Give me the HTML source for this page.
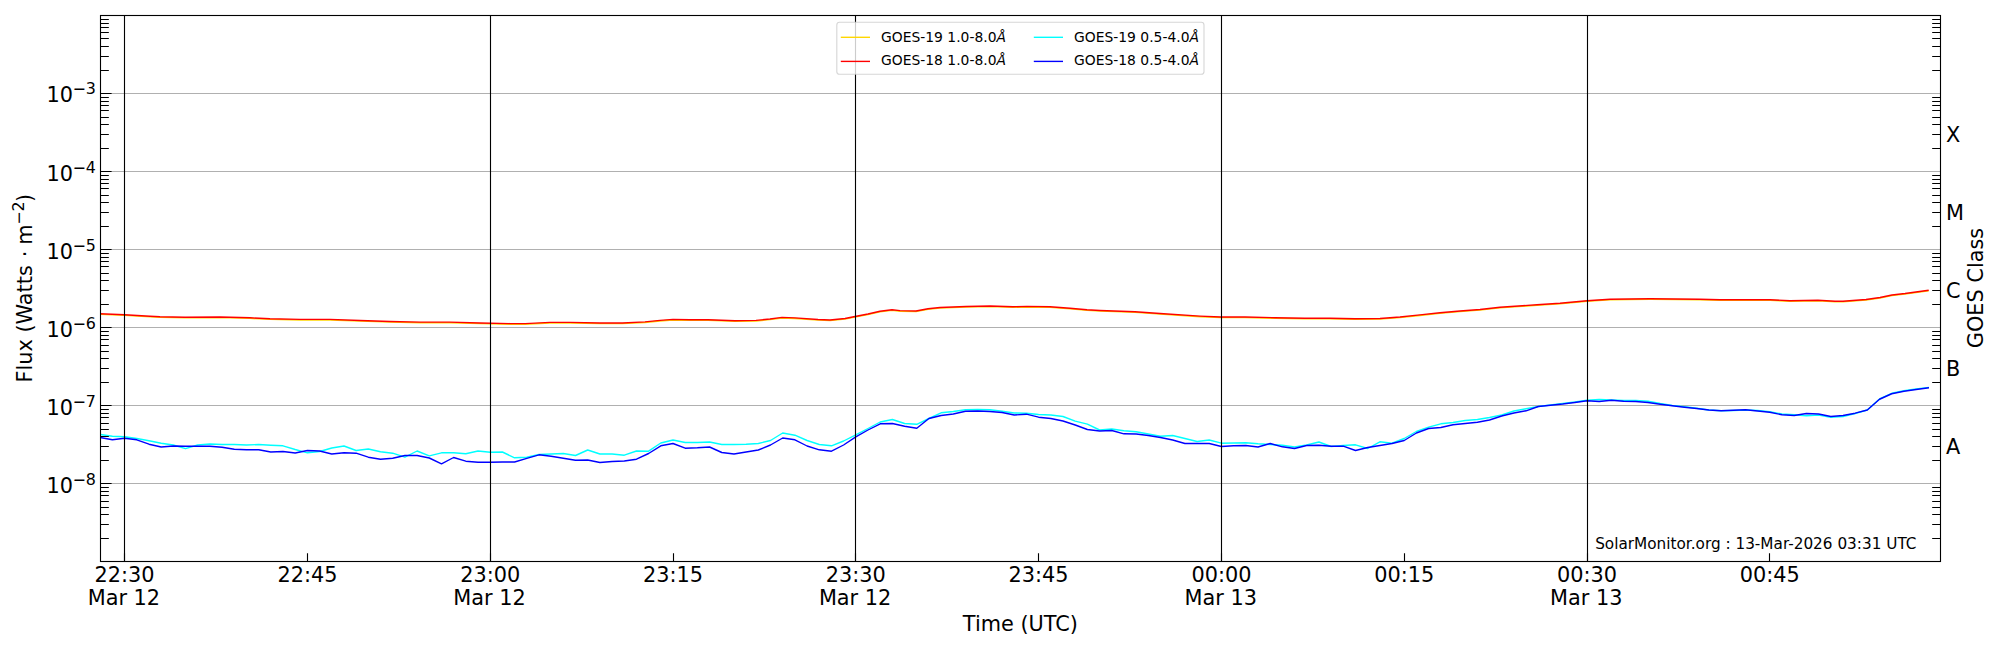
<!DOCTYPE html>
<html><head><meta charset="utf-8"><title>GOES X-ray Flux</title><style>
html,body{margin:0;padding:0;background:#fff;overflow:hidden;width:2000px;height:650px;}
</style></head><body>
<svg width="2000" height="650" viewBox="0 0 2000 650" style="display:block">
<rect x="0" y="0" width="2000" height="650" fill="#fff"/>
<defs><clipPath id="ax"><rect x="100.50" y="15.48" width="1840.00" height="546.35"/></clipPath></defs>
<path d="M100.50 483.50H1940.50M100.50 405.50H1940.50M100.50 327.50H1940.50M100.50 249.50H1940.50M100.50 171.50H1940.50M100.50 93.50H1940.50" stroke="#b0b0b0" stroke-width="1.11" fill="none"/>
<g clip-path="url(#ax)" fill="none" stroke-width="1.39" stroke-linejoin="round" stroke-linecap="square">
<polyline points="88.0,313.90 100.0,314.40 124.5,315.40 150.0,316.90 160.0,317.40 185.0,317.80 220.0,317.60 250.0,318.40 270.0,319.40 300.0,320.00 330.0,320.00 360.0,321.10 390.0,322.10 420.0,322.70 450.0,322.70 480.0,323.60 510.0,324.20 525.0,324.20 550.0,323.00 570.0,323.00 600.0,323.60 622.5,323.60 645.0,322.50 660.0,321.00 673.0,320.00 690.0,320.30 708.0,320.30 735.0,321.35 756.0,321.00 770.0,319.60 782.0,318.00 795.0,318.50 818.0,320.10 830.0,320.60 845.0,319.10 855.0,317.10 868.0,314.60 880.0,311.90 892.0,310.40 900.0,311.20 916.0,311.60 928.0,309.35 940.0,308.10 966.0,307.10 990.0,306.65 1013.0,307.40 1027.0,306.95 1050.0,307.40 1070.0,308.90 1087.0,310.40 1100.0,311.10 1135.0,312.35 1160.0,314.10 1200.0,316.70 1221.0,317.60 1245.0,317.60 1275.0,318.35 1305.0,318.80 1330.0,318.80 1355.0,319.40 1380.0,319.10 1400.0,317.60 1420.0,315.50 1440.0,313.40 1460.0,311.60 1480.0,310.10 1500.0,307.90 1537.0,305.35 1560.0,303.85 1587.0,301.30 1610.0,299.80 1650.0,299.35 1700.0,299.80 1720.0,300.40 1750.0,300.40 1770.0,300.30 1790.0,301.30 1818.0,300.90 1835.0,301.80 1843.0,301.80 1866.0,300.10 1880.0,298.10 1892.0,295.60 1905.0,294.10 1928.0,290.90" stroke="#ffd700"/>
<polyline points="88.0,313.30 100.0,313.80 124.5,314.80 150.0,316.30 160.0,316.80 185.0,317.20 220.0,317.00 250.0,317.80 270.0,318.80 300.0,319.40 330.0,319.40 360.0,320.50 390.0,321.50 420.0,322.10 450.0,322.10 480.0,323.00 510.0,323.60 525.0,323.60 550.0,322.40 570.0,322.40 600.0,323.00 622.5,323.00 645.0,321.90 660.0,320.40 673.0,319.40 690.0,319.70 708.0,319.70 735.0,320.75 756.0,320.40 770.0,319.00 782.0,317.40 795.0,317.90 818.0,319.50 830.0,320.00 845.0,318.50 855.0,316.50 868.0,314.00 880.0,311.30 892.0,309.80 900.0,310.60 916.0,311.00 928.0,308.75 940.0,307.50 966.0,306.50 990.0,306.05 1013.0,306.80 1027.0,306.35 1050.0,306.80 1070.0,308.30 1087.0,309.80 1100.0,310.50 1135.0,311.75 1160.0,313.50 1200.0,316.10 1221.0,317.00 1245.0,317.00 1275.0,317.75 1305.0,318.20 1330.0,318.20 1355.0,318.80 1380.0,318.50 1400.0,317.00 1420.0,314.90 1440.0,312.80 1460.0,311.00 1480.0,309.50 1500.0,307.30 1537.0,304.75 1560.0,303.25 1587.0,300.70 1610.0,299.20 1650.0,298.75 1700.0,299.20 1720.0,299.80 1750.0,299.80 1770.0,299.70 1790.0,300.70 1818.0,300.30 1835.0,301.20 1843.0,301.20 1866.0,299.50 1880.0,297.50 1892.0,295.00 1905.0,293.50 1928.0,290.30" stroke="#ff0000"/>
<polyline points="88.0,432.80 100.2,434.50 112.4,436.20 124.6,436.80 136.8,438.50 149.0,440.80 161.2,443.20 173.3,445.00 185.5,448.70 197.7,445.00 209.9,444.00 222.1,444.50 234.3,444.50 246.5,445.00 258.7,444.50 270.8,445.20 283.0,445.80 295.2,449.50 307.4,452.80 319.6,451.50 331.8,448.00 344.0,446.00 356.1,450.50 368.3,449.00 380.5,451.80 392.7,453.20 404.9,457.20 417.1,451.00 429.3,455.80 441.5,452.80 453.6,452.80 465.8,453.80 478.0,451.00 490.2,452.20 502.4,452.00 514.6,457.80 526.8,457.20 539.0,454.50 551.1,454.00 563.3,453.50 575.5,455.50 587.7,450.00 599.9,454.00 612.1,454.00 624.3,455.20 636.5,451.00 648.6,451.20 660.8,443.00 673.0,440.00 685.2,442.50 697.4,442.50 709.6,442.00 721.8,444.50 734.0,444.50 746.1,444.20 758.3,443.50 770.5,440.50 782.7,433.00 794.9,435.20 807.1,440.50 819.3,444.50 831.5,445.80 843.6,441.00 855.8,434.80 868.0,428.50 880.2,422.00 892.4,419.50 904.6,423.50 916.8,424.30 928.9,418.50 941.1,412.80 953.3,411.50 965.5,409.70 977.7,409.50 989.9,409.80 1002.1,411.20 1014.2,413.00 1026.4,413.20 1038.6,414.50 1050.8,415.00 1063.0,416.50 1075.2,421.20 1087.4,424.20 1099.6,430.00 1111.8,429.00 1123.9,430.80 1136.1,431.70 1148.3,434.00 1160.5,436.30 1172.7,435.50 1184.9,438.50 1197.1,441.50 1209.2,440.00 1221.4,443.20 1233.6,443.00 1245.8,442.80 1258.0,443.80 1270.2,444.50 1282.4,445.20 1294.5,447.00 1306.7,445.00 1318.9,442.00 1331.1,446.50 1343.3,445.50 1355.5,444.80 1367.7,448.50 1379.9,441.80 1392.0,443.20 1404.2,438.50 1416.4,431.50 1428.6,427.20 1440.8,423.80 1453.0,422.50 1465.2,420.50 1477.4,419.50 1489.5,417.50 1501.7,415.00 1513.9,411.00 1526.1,408.80 1538.3,406.50 1550.5,405.00 1562.7,403.50 1574.8,402.00 1587.0,400.20 1599.2,399.50 1611.4,400.00 1623.6,400.50 1635.8,400.50 1648.0,401.20 1660.2,403.50 1672.3,405.50 1684.5,406.80 1696.7,408.20 1708.9,410.00 1721.1,410.80 1733.3,410.50 1745.5,410.00 1757.7,410.50 1769.8,411.80 1782.0,414.00 1794.2,414.80 1806.4,415.80 1818.6,415.00 1830.8,417.20 1843.0,416.50 1855.2,413.50 1867.3,410.00 1879.5,399.00 1891.7,393.30 1903.9,390.80 1916.1,389.00 1928.3,387.50" stroke="#00ffff"/>
<polyline points="88.0,435.30 100.2,437.50 112.4,439.70 124.6,438.30 136.8,439.80 149.0,444.20 161.2,447.00 173.3,446.00 185.5,446.30 197.7,446.30 209.9,446.30 222.1,447.30 234.3,449.20 246.5,449.70 258.7,449.70 270.8,452.00 283.0,451.50 295.2,453.00 307.4,450.50 319.6,451.00 331.8,454.00 344.0,452.80 356.1,453.20 368.3,457.20 380.5,459.20 392.7,458.20 404.9,455.50 417.1,455.50 429.3,458.00 441.5,463.80 453.6,457.50 465.8,461.20 478.0,462.30 490.2,462.30 502.4,462.00 514.6,462.00 526.8,458.30 539.0,454.80 551.1,456.20 563.3,458.20 575.5,460.20 587.7,460.00 599.9,462.50 612.1,461.50 624.3,461.00 636.5,459.20 648.6,453.50 660.8,445.80 673.0,443.50 685.2,448.20 697.4,447.80 709.6,447.00 721.8,452.50 734.0,454.00 746.1,452.00 758.3,450.00 770.5,445.00 782.7,438.00 794.9,439.80 807.1,446.00 819.3,449.80 831.5,451.20 843.6,445.00 855.8,436.80 868.0,430.00 880.2,423.80 892.4,423.50 904.6,426.20 916.8,428.20 928.9,418.50 941.1,415.50 953.3,414.00 965.5,411.30 977.7,411.00 989.9,411.50 1002.1,412.50 1014.2,415.00 1026.4,414.20 1038.6,417.20 1050.8,418.50 1063.0,421.00 1075.2,425.00 1087.4,429.50 1099.6,431.00 1111.8,430.50 1123.9,433.80 1136.1,434.00 1148.3,435.50 1160.5,437.50 1172.7,440.00 1184.9,443.50 1197.1,443.50 1209.2,443.50 1221.4,446.50 1233.6,445.80 1245.8,445.50 1258.0,447.00 1270.2,443.50 1282.4,446.80 1294.5,448.50 1306.7,445.50 1318.9,445.20 1331.1,446.20 1343.3,446.20 1355.5,450.50 1367.7,447.50 1379.9,445.50 1392.0,443.50 1404.2,440.50 1416.4,433.00 1428.6,428.50 1440.8,427.50 1453.0,424.80 1465.2,423.50 1477.4,422.20 1489.5,420.00 1501.7,416.00 1513.9,413.00 1526.1,410.80 1538.3,406.50 1550.5,405.20 1562.7,404.00 1574.8,402.50 1587.0,400.80 1599.2,401.50 1611.4,400.20 1623.6,401.20 1635.8,401.50 1648.0,402.50 1660.2,404.20 1672.3,405.80 1684.5,407.20 1696.7,408.50 1708.9,410.00 1721.1,410.80 1733.3,410.30 1745.5,409.80 1757.7,411.00 1769.8,412.20 1782.0,414.80 1794.2,415.50 1806.4,413.50 1818.6,414.00 1830.8,416.50 1843.0,415.50 1855.2,413.20 1867.3,410.00 1879.5,399.25 1891.7,393.75 1903.9,391.25 1916.1,389.50 1928.3,387.90" stroke="#0000ff"/>
</g>
<path d="M124.50 15.50V561.50M490.50 15.50V561.50M855.50 15.50V561.50M1221.50 15.50V561.50M1587.50 15.50V561.50" stroke="#000" stroke-width="1.11" fill="none"/>
<path d="M100.50 538.50h8.33M1940.50 538.50h-8.33M100.50 524.50h8.33M1940.50 524.50h-8.33M100.50 514.50h8.33M1940.50 514.50h-8.33M100.50 507.50h8.33M1940.50 507.50h-8.33M100.50 501.50h8.33M1940.50 501.50h-8.33M100.50 495.50h8.33M1940.50 495.50h-8.33M100.50 491.50h8.33M1940.50 491.50h-8.33M100.50 487.50h8.33M1940.50 487.50h-8.33M100.50 483.50h11.10M100.50 460.50h8.33M1940.50 460.50h-8.33M100.50 446.50h8.33M1940.50 446.50h-8.33M100.50 436.50h8.33M1940.50 436.50h-8.33M100.50 429.50h8.33M1940.50 429.50h-8.33M100.50 423.50h8.33M1940.50 423.50h-8.33M100.50 417.50h8.33M1940.50 417.50h-8.33M100.50 413.50h8.33M1940.50 413.50h-8.33M100.50 409.50h8.33M1940.50 409.50h-8.33M100.50 405.50h11.10M100.50 382.50h8.33M1940.50 382.50h-8.33M100.50 368.50h8.33M1940.50 368.50h-8.33M100.50 358.50h8.33M1940.50 358.50h-8.33M100.50 351.50h8.33M1940.50 351.50h-8.33M100.50 345.50h8.33M1940.50 345.50h-8.33M100.50 339.50h8.33M1940.50 339.50h-8.33M100.50 335.50h8.33M1940.50 335.50h-8.33M100.50 331.50h8.33M1940.50 331.50h-8.33M100.50 327.50h11.10M100.50 304.50h8.33M1940.50 304.50h-8.33M100.50 290.50h8.33M1940.50 290.50h-8.33M100.50 280.50h8.33M1940.50 280.50h-8.33M100.50 273.50h8.33M1940.50 273.50h-8.33M100.50 266.50h8.33M1940.50 266.50h-8.33M100.50 261.50h8.33M1940.50 261.50h-8.33M100.50 257.50h8.33M1940.50 257.50h-8.33M100.50 253.50h8.33M1940.50 253.50h-8.33M100.50 249.50h11.10M100.50 226.50h8.33M1940.50 226.50h-8.33M100.50 212.50h8.33M1940.50 212.50h-8.33M100.50 202.50h8.33M1940.50 202.50h-8.33M100.50 195.50h8.33M1940.50 195.50h-8.33M100.50 188.50h8.33M1940.50 188.50h-8.33M100.50 183.50h8.33M1940.50 183.50h-8.33M100.50 179.50h8.33M1940.50 179.50h-8.33M100.50 175.50h8.33M1940.50 175.50h-8.33M100.50 171.50h11.10M100.50 148.50h8.33M1940.50 148.50h-8.33M100.50 134.50h8.33M1940.50 134.50h-8.33M100.50 124.50h8.33M1940.50 124.50h-8.33M100.50 117.50h8.33M1940.50 117.50h-8.33M100.50 110.50h8.33M1940.50 110.50h-8.33M100.50 105.50h8.33M1940.50 105.50h-8.33M100.50 101.50h8.33M1940.50 101.50h-8.33M100.50 97.50h8.33M1940.50 97.50h-8.33M100.50 93.50h11.10M100.50 70.50h8.33M1940.50 70.50h-8.33M100.50 56.50h8.33M1940.50 56.50h-8.33M100.50 46.50h8.33M1940.50 46.50h-8.33M100.50 38.50h8.33M1940.50 38.50h-8.33M100.50 32.50h8.33M1940.50 32.50h-8.33M100.50 27.50h8.33M1940.50 27.50h-8.33M100.50 23.50h8.33M1940.50 23.50h-8.33M100.50 19.50h8.33M1940.50 19.50h-8.33M1940.50 446.50h-8.33M1940.50 368.50h-8.33M1940.50 290.50h-8.33M1940.50 212.50h-8.33M1940.50 134.50h-8.33M124.50 561.50v-8.33M307.50 561.50v-8.33M490.50 561.50v-8.33M673.50 561.50v-8.33M855.50 561.50v-8.33M1038.50 561.50v-8.33M1221.50 561.50v-8.33M1404.50 561.50v-8.33M1587.50 561.50v-8.33M1769.50 561.50v-8.33" stroke="#000" stroke-width="1.11" fill="none"/>
<rect x="100.50" y="15.50" width="1840.00" height="546.00" fill="none" stroke="#000" stroke-width="1.11" stroke-linejoin="miter"/>
<rect x="836.80" y="22.30" width="367.20" height="51.90" rx="2.80" fill="#fff" fill-opacity="0.8" stroke="#ccc" stroke-opacity="0.8" stroke-width="1.11"/>
<path d="M840.80 37.30H870.00" stroke="#ffd700" stroke-width="1.39"/>
<text x="881.00" y="42.20" font-family='"DejaVu Sans", sans-serif' font-size="13.89">GOES-19 1.0-8.0<tspan font-style="oblique">Å</tspan></text>
<path d="M840.80 61.40H870.00" stroke="#ff0000" stroke-width="1.39"/>
<text x="881.00" y="65.10" font-family='"DejaVu Sans", sans-serif' font-size="13.89">GOES-18 1.0-8.0<tspan font-style="oblique">Å</tspan></text>
<path d="M1033.80 37.30H1063.00" stroke="#00ffff" stroke-width="1.39"/>
<text x="1074.00" y="42.20" font-family='"DejaVu Sans", sans-serif' font-size="13.89">GOES-19 0.5-4.0<tspan font-style="oblique">Å</tspan></text>
<path d="M1033.80 61.40H1063.00" stroke="#0000ff" stroke-width="1.39"/>
<text x="1074.00" y="65.10" font-family='"DejaVu Sans", sans-serif' font-size="13.89">GOES-18 0.5-4.0<tspan font-style="oblique">Å</tspan></text>
<text x="124.60" y="581.80" font-family='"DejaVu Sans", sans-serif' font-size="20.83" text-anchor="middle">22:30</text>
<text x="123.90" y="604.80" font-family='"DejaVu Sans", sans-serif' font-size="20.83" text-anchor="middle">Mar 12</text>
<text x="307.40" y="581.80" font-family='"DejaVu Sans", sans-serif' font-size="20.83" text-anchor="middle">22:45</text>
<text x="490.20" y="581.80" font-family='"DejaVu Sans", sans-serif' font-size="20.83" text-anchor="middle">23:00</text>
<text x="489.50" y="604.80" font-family='"DejaVu Sans", sans-serif' font-size="20.83" text-anchor="middle">Mar 12</text>
<text x="673.00" y="581.80" font-family='"DejaVu Sans", sans-serif' font-size="20.83" text-anchor="middle">23:15</text>
<text x="855.80" y="581.80" font-family='"DejaVu Sans", sans-serif' font-size="20.83" text-anchor="middle">23:30</text>
<text x="855.10" y="604.80" font-family='"DejaVu Sans", sans-serif' font-size="20.83" text-anchor="middle">Mar 12</text>
<text x="1038.60" y="581.80" font-family='"DejaVu Sans", sans-serif' font-size="20.83" text-anchor="middle">23:45</text>
<text x="1221.40" y="581.80" font-family='"DejaVu Sans", sans-serif' font-size="20.83" text-anchor="middle">00:00</text>
<text x="1220.70" y="604.80" font-family='"DejaVu Sans", sans-serif' font-size="20.83" text-anchor="middle">Mar 13</text>
<text x="1404.20" y="581.80" font-family='"DejaVu Sans", sans-serif' font-size="20.83" text-anchor="middle">00:15</text>
<text x="1587.00" y="581.80" font-family='"DejaVu Sans", sans-serif' font-size="20.83" text-anchor="middle">00:30</text>
<text x="1586.30" y="604.80" font-family='"DejaVu Sans", sans-serif' font-size="20.83" text-anchor="middle">Mar 13</text>
<text x="1769.80" y="581.80" font-family='"DejaVu Sans", sans-serif' font-size="20.83" text-anchor="middle">00:45</text>
<text x="46.50" y="492.99" font-family='"DejaVu Sans", sans-serif' font-size="20.83" text-anchor="start">10</text>
<text x="72.50" y="485.19" font-family='"DejaVu Sans", sans-serif' font-size="15.90" text-anchor="start">−8</text>
<text x="46.50" y="414.94" font-family='"DejaVu Sans", sans-serif' font-size="20.83" text-anchor="start">10</text>
<text x="72.50" y="407.13" font-family='"DejaVu Sans", sans-serif' font-size="15.90" text-anchor="start">−7</text>
<text x="46.50" y="336.89" font-family='"DejaVu Sans", sans-serif' font-size="20.83" text-anchor="start">10</text>
<text x="72.50" y="329.09" font-family='"DejaVu Sans", sans-serif' font-size="15.90" text-anchor="start">−6</text>
<text x="46.50" y="258.84" font-family='"DejaVu Sans", sans-serif' font-size="20.83" text-anchor="start">10</text>
<text x="72.50" y="251.04" font-family='"DejaVu Sans", sans-serif' font-size="15.90" text-anchor="start">−5</text>
<text x="46.50" y="180.79" font-family='"DejaVu Sans", sans-serif' font-size="20.83" text-anchor="start">10</text>
<text x="72.50" y="172.99" font-family='"DejaVu Sans", sans-serif' font-size="15.90" text-anchor="start">−4</text>
<text x="46.50" y="102.14" font-family='"DejaVu Sans", sans-serif' font-size="20.83" text-anchor="start">10</text>
<text x="72.50" y="94.34" font-family='"DejaVu Sans", sans-serif' font-size="15.90" text-anchor="start">−3</text>
<text x="1946.00" y="141.85" font-family='"DejaVu Sans", sans-serif' font-size="20.83" text-anchor="start">X</text>
<text x="1946.00" y="219.90" font-family='"DejaVu Sans", sans-serif' font-size="20.83" text-anchor="start">M</text>
<text x="1946.00" y="297.95" font-family='"DejaVu Sans", sans-serif' font-size="20.83" text-anchor="start">C</text>
<text x="1946.00" y="376.00" font-family='"DejaVu Sans", sans-serif' font-size="20.83" text-anchor="start">B</text>
<text x="1946.00" y="454.05" font-family='"DejaVu Sans", sans-serif' font-size="20.83" text-anchor="start">A</text>
<text x="1020.40" y="631.20" font-family='"DejaVu Sans", sans-serif' font-size="20.83" text-anchor="middle">Time (UTC)</text>
<text transform="translate(32.00 382.50) rotate(-90)" x="0" y="0" font-family='"DejaVu Sans", sans-serif' font-size="20.83">Flux (Watts <tspan dx="1.30">·</tspan><tspan dx="-0.60"> m</tspan><tspan font-size="15.90" dx="-0.40" dy="-7.80">−2</tspan><tspan dx="-0.60" dy="7.80">)</tspan></text>
<text transform="translate(1983.00 288.00) rotate(-90)" x="0" y="0" font-family='"DejaVu Sans", sans-serif' font-size="20.83" text-anchor="middle">GOES Class</text>
<text x="1916.50" y="549.00" font-family='"DejaVu Sans", sans-serif' font-size="15.28" text-anchor="end">SolarMonitor.org : 13-Mar-2026 03:31 UTC</text>
</svg>
</body></html>
